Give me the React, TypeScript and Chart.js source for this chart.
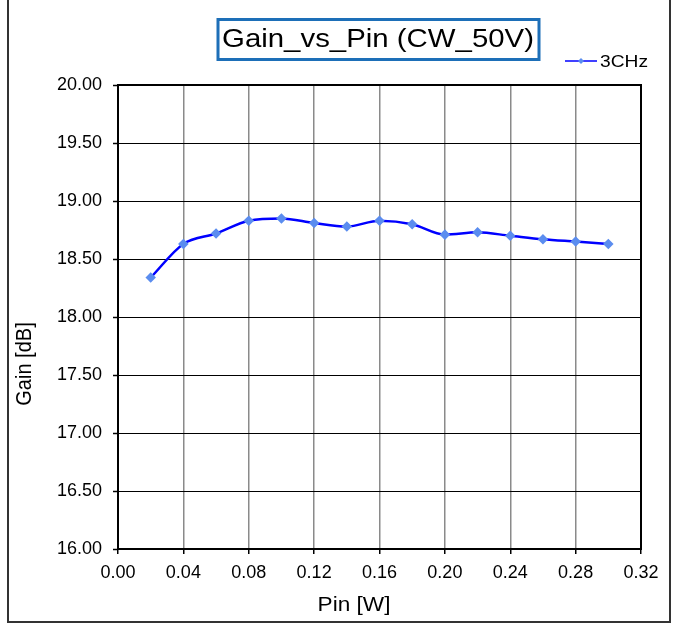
import React, { useEffect, useRef } from "react";
import { Chart, registerables } from "chart.js";

Chart.register(...registerables);

const TITLE = "Gain_vs_Pin (CW_50V)";
const SERIES_LABEL = "3CHz";
const X_TITLE = "Pin [W]";
const Y_TITLE = "Gain [dB]";
const PIN_W = [0.02, 0.04, 0.06, 0.08, 0.1, 0.12, 0.14, 0.16, 0.18, 0.2, 0.22, 0.24, 0.26, 0.28, 0.3];
const GAIN_DB = [18.34, 18.63, 18.72, 18.83, 18.85, 18.81, 18.78, 18.83, 18.8, 18.71, 18.73, 18.7, 18.67, 18.65, 18.63];
const X_MIN = 0;
const X_MAX = 0.32;
const X_STEP = 0.04;
const Y_MIN = 16;
const Y_MAX = 20;
const Y_STEP = 0.5;

const FONT = "'Liberation Sans', Arial, sans-serif";
const STRETCH = 1.13;

function stretchedText(ctx: any, text: string, cx: number, cy: number, size: number, rotate = 0) {
  ctx.save();
  ctx.translate(cx, cy);
  if (rotate) ctx.rotate(rotate);
  if (rotate) ctx.scale(1, STRETCH);
  else ctx.scale(STRETCH, 1);
  ctx.font = `${size}px ${FONT}`;
  ctx.fillStyle = "#000";
  ctx.textAlign = "center";
  ctx.textBaseline = "middle";
  ctx.fillText(text, 0, 0);
  ctx.restore();
}

const decorPlugin = {
  id: "decor",
  afterDraw(chart: any) {
    const { ctx, chartArea } = chart;
    ctx.save();
    // plot border
    ctx.strokeStyle = "#000";
    ctx.lineWidth = 2;
    ctx.strokeRect(chartArea.left, chartArea.top, chartArea.right - chartArea.left, chartArea.bottom - chartArea.top);
    // outer frame (left, right, bottom)
    ctx.strokeStyle = "#333";
    ctx.lineWidth = 2;
    ctx.beginPath();
    ctx.moveTo(8, 0);
    ctx.lineTo(8, 622);
    ctx.lineTo(670, 622);
    ctx.lineTo(670, 0);
    ctx.stroke();
    // title box
    ctx.strokeStyle = "#1d6fb8";
    ctx.lineWidth = 3;
    ctx.strokeRect(218, 19.5, 321, 40);
    stretchedText(ctx, TITLE, 378, 40, 26);
    // axis titles
    stretchedText(ctx, X_TITLE, 354, 605, 20);
    stretchedText(ctx, Y_TITLE, 25, 364, 20, -Math.PI / 2);
    // legend
    const ds = chart.data.datasets[0];
    ctx.strokeStyle = ds.borderColor;
    ctx.lineWidth = 1.5;
    ctx.beginPath();
    ctx.moveTo(565, 61);
    ctx.lineTo(597, 61);
    ctx.stroke();
    ctx.fillStyle = ds.pointBackgroundColor;
    ctx.beginPath();
    ctx.moveTo(581, 58);
    ctx.lineTo(584, 61);
    ctx.lineTo(581, 64);
    ctx.lineTo(578, 61);
    ctx.closePath();
    ctx.fill();
    ctx.restore();
    ctx.save();
    ctx.translate(600, 62);
    ctx.scale(STRETCH, 1);
    ctx.font = `17px ${FONT}`;
    ctx.fillStyle = "#000";
    ctx.textAlign = "left";
    ctx.textBaseline = "middle";
    ctx.fillText(ds.label, 0, 0);
    ctx.restore();
  },
};

export default function App() {
  const ref = useRef<HTMLCanvasElement>(null);
  useEffect(() => {
    if (!ref.current) return;
    const chart = new Chart(ref.current, {
      type: "line",
      data: {
        datasets: [
          {
            label: SERIES_LABEL,
            data: PIN_W.map((x, i) => ({ x, y: GAIN_DB[i] })),
            borderColor: "#0000ff",
            borderWidth: 2.5,
            pointBackgroundColor: "#5b8def",
            pointBorderColor: "#5b8def",
            pointStyle: "rectRot",
            pointRadius: 3.5,
            cubicInterpolationMode: "monotone",
            fill: false,
          },
        ],
      },
      options: {
        animation: false,
        responsive: false,
        devicePixelRatio: 1,
        layout: { padding: { top: 85, right: 36, bottom: 0, left: 0 } },
        plugins: { legend: { display: false }, title: { display: false }, tooltip: { enabled: false } },
        scales: {
          x: {
            type: "linear",
            min: X_MIN,
            max: X_MAX,
            ticks: {
              stepSize: X_STEP,
              color: "#000",
              font: { family: FONT, size: 18 },
              padding: 8,
              maxRotation: 0,
              callback: (v: any) => Number(v).toFixed(2),
            },
            grid: { color: "#8a8a8a", lineWidth: 1.5, tickLength: 5, tickColor: "#000", tickWidth: 1.5 },
            border: { display: true, color: "#000", width: 2 },
            title: { display: false, text: X_TITLE },
            afterFit: (s: any) => { s.height = 77; },
          },
          y: {
            type: "linear",
            min: Y_MIN,
            max: Y_MAX,
            ticks: {
              stepSize: Y_STEP,
              color: "#000",
              font: { family: FONT, size: 18 },
              padding: 11,
              callback: (v: any) => Number(v).toFixed(2),
            },
            grid: { color: "#000", lineWidth: 1, tickLength: 5, tickColor: "#000", tickWidth: 1.5 },
            border: { display: true, color: "#000", width: 2 },
            title: { display: false, text: Y_TITLE },
            afterFit: (s: any) => { s.width = 118; },
          },
        },
      },
      plugins: [decorPlugin],
    });
    return () => chart.destroy();
  }, []);
  return (
    <div style={{ position: "absolute", left: 0, top: 0, width: 677, height: 626, background: "#fff" }}>
      <canvas ref={ref} width={677} height={626} style={{ width: 677, height: 626, display: "block" }} />
    </div>
  );
}
